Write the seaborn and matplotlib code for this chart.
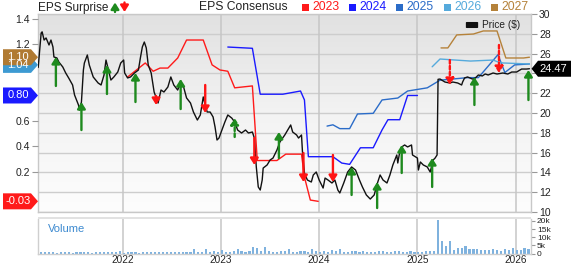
import numpy as np
import pandas as pd
import matplotlib
matplotlib.use("Agg")
import matplotlib.pyplot as plt
import seaborn as sns
from matplotlib.patches import Polygon, FancyArrowPatch, FancyBboxPatch, Rectangle
from matplotlib.colors import LinearSegmentedColormap

sns.set_style("white")
plt.rcParams["font.family"] = ["Liberation Sans", "DejaVu Sans"]

# ---------------- data ----------------
price_t = [2021.14, 2021.17, 2021.18, 2021.20, 2021.22, 2021.25, 2021.27, 2021.29, 2021.30, 2021.33,
           2021.35, 2021.39, 2021.42, 2021.45, 2021.49, 2021.51, 2021.55, 2021.56, 2021.58, 2021.60,
           2021.61, 2021.64, 2021.66, 2021.70, 2021.75, 2021.78, 2021.81, 2021.83, 2021.85, 2021.88,
           2021.91, 2021.95, 2021.98, 2022.01, 2022.02, 2022.05, 2022.08, 2022.12, 2022.16, 2022.18,
           2022.20, 2022.22, 2022.24, 2022.26, 2022.29, 2022.32, 2022.36, 2022.39, 2022.42, 2022.46,
           2022.49, 2022.52, 2022.56, 2022.59, 2022.62, 2022.65, 2022.69, 2022.72, 2022.76, 2022.79,
           2022.82, 2022.84, 2022.86, 2022.89, 2022.92, 2022.94, 2022.96, 2022.98, 2023.01, 2023.04,
           2023.07, 2023.11, 2023.14, 2023.17, 2023.21, 2023.25, 2023.28, 2023.32, 2023.34, 2023.36,
           2023.38, 2023.40, 2023.42, 2023.43, 2023.47, 2023.50, 2023.53, 2023.57, 2023.60, 2023.65,
           2023.68, 2023.71, 2023.73, 2023.77, 2023.79, 2023.82, 2023.83, 2023.85, 2023.88, 2023.92,
           2023.94, 2023.97, 2024.00, 2024.04, 2024.06, 2024.09, 2024.13, 2024.16, 2024.19, 2024.21,
           2024.25, 2024.29, 2024.33, 2024.37, 2024.41, 2024.44, 2024.48, 2024.52, 2024.56, 2024.59,
           2024.62, 2024.65, 2024.69, 2024.72, 2024.75, 2024.79, 2024.80, 2024.82, 2024.84, 2024.87,
           2024.90, 2024.94, 2024.95, 2025.00, 2025.01, 2025.03, 2025.06, 2025.10, 2025.13, 2025.16,
           2025.18, 2025.20, 2025.21, 2025.23, 2025.28, 2025.33, 2025.36, 2025.41, 2025.45, 2025.46,
           2025.48, 2025.51, 2025.56, 2025.59, 2025.62, 2025.66, 2025.69, 2025.72, 2025.77, 2025.81,
           2025.87, 2025.92, 2025.96, 2026.01, 2026.06, 2026.11, 2026.14]
price_v = [24.60, 28.08, 28.20, 27.37, 27.58, 26.87, 27.37, 26.67, 25.66, 25.56,
           25.15, 24.65, 24.04, 23.54, 22.83, 21.82, 20.81, 20.30, 21.11, 24.34,
           25.05, 25.86, 24.85, 23.64, 23.03, 22.83, 23.84, 25.35, 24.55, 23.33,
           23.64, 24.14, 25.05, 25.35, 24.04, 23.54, 23.64, 24.04, 24.34, 25.56,
           26.67, 27.17, 26.57, 24.85, 24.04, 22.12, 21.01, 22.32, 22.12, 22.63,
           23.64, 22.83, 22.32, 23.13, 22.63, 21.52, 21.01, 20.10, 19.29, 19.80,
           21.62, 20.81, 20.10, 20.10, 19.60, 18.59, 17.27, 17.47, 18.28, 19.09,
           19.80, 19.49, 19.09, 18.28, 17.98, 18.28, 17.98, 18.08, 17.47, 14.55,
           12.53, 12.22, 13.23, 14.44, 14.75, 15.25, 15.45, 16.26, 17.07, 17.78,
           18.28, 18.79, 18.08, 17.78, 17.47, 17.78, 16.06, 13.94, 13.23, 13.03,
           13.74, 14.04, 13.23, 12.42, 13.43, 13.23, 12.93, 13.23, 12.22, 11.92,
           12.93, 14.04, 14.55, 14.24, 13.23, 12.53, 11.72, 11.31, 11.72, 12.83,
           13.74, 13.23, 12.93, 13.74, 14.75, 15.76, 14.95, 16.06, 16.57, 16.77,
           16.57, 16.77, 15.76, 15.45, 14.24, 15.05, 14.75, 14.55, 14.04, 15.25,
           15.45, 15.76, 23.40, 23.43, 23.13, 23.03, 23.13, 23.03, 22.83, 23.13,
           23.54, 23.64, 23.43, 23.54, 23.84, 23.74, 23.94, 23.84, 24.04, 23.94,
           24.04, 23.94, 24.14, 24.14, 24.44, 24.44, 24.47]

cons_2023_t = [2022.05, 2022.23, 2022.31, 2022.38, 2022.46, 2022.56, 2022.65, 2022.82, 2022.91, 2022.99,
               2023.07, 2023.14, 2023.32, 2023.37, 2023.57, 2023.66, 2023.82, 2023.85, 2023.91, 2023.99]
cons_2023_v = [0.945, 1.055, 0.99, 1.015, 1.015, 1.094, 1.235, 1.235, 1.04, 1.00,
               0.99, 0.86, 0.875, 0.29, 0.29, 0.34, 0.34, 0.16, -0.02, -0.03]
cons_2024_t = [2023.07, 2023.32, 2023.40, 2023.63, 2023.81, 2023.85, 2023.89, 2024.14, 2024.23, 2024.31,
               2024.42, 2024.55, 2024.64, 2024.70, 2024.82, 2024.90, 2025.00]
cons_2024_v = [1.18, 1.17, 0.81, 0.81, 0.835, 0.765, 0.32, 0.32, 0.27, 0.26,
               0.39, 0.39, 0.53, 0.61, 0.61, 0.80, 0.80]
cons_2025_t = [2024.08, 2024.14, 2024.21, 2024.31, 2024.39, 2024.55, 2024.64, 2024.80, 2024.90, 2025.10,
               2025.23, 2025.51, 2025.62, 2025.82, 2025.89, 2025.99, 2026.14]
cons_2025_v = [0.56, 0.57, 0.54, 0.54, 0.655, 0.66, 0.765, 0.78, 0.835, 0.86,
               0.92, 0.94, 0.94, 1.12, 0.98, 1.04, 1.047]
cons_2026_t = [2025.15, 2025.23, 2025.54, 2025.77, 2025.82, 2025.87, 2026.14]
cons_2026_v = [1.025, 1.086, 1.07, 1.078, 1.063, 1.055, 1.047]
cons_2027_t = [2025.24, 2025.31, 2025.40, 2025.57, 2025.67, 2025.81, 2025.90, 2026.08, 2026.14]
cons_2027_v = [1.173, 1.173, 1.275, 1.282, 1.306, 1.306, 1.094, 1.094, 1.10]

cons_years = ["2023", "2024", "2025", "2026", "2027"]
cons_colors = ["#ff1a1a", "#1a1aff", "#2b6cc8", "#55aadc", "#b5823a"]

# EPS surprise arrows (date, tail price, tip price, dashed?)
surp_t = [2021.32, 2021.58, 2021.84, 2022.13, 2022.34, 2022.59, 2022.84, 2023.14, 2023.34, 2023.59,
          2023.84, 2024.14, 2024.33, 2024.59, 2024.84, 2025.15, 2025.33, 2025.58, 2025.83, 2026.13]
surp_tail = [22.73, 18.28, 21.92, 21.11, 21.72, 20.40, 22.83, 17.58, 17.47, 15.45,
             15.96, 15.76, 11.72, 10.40, 13.94, 12.53, 25.35, 20.81, 26.87, 21.31]
surp_tip = [25.66, 21.11, 24.85, 24.04, 20.81, 23.43, 20.00, 19.49, 14.75, 18.08,
            13.03, 13.03, 14.55, 13.03, 16.77, 15.45, 22.83, 23.64, 24.04, 24.34]
surp_dashed = [False, False, False, False, False, False, False, True, False, False,
               False, False, False, False, False, False, True, False, True, False]

vol_start = 2021.17
vol_step = 0.04
vol_k = [1.2, 0.9, 0.8, 0.7, 0.6, 0.8, 0.7, 0.9, 0.6, 0.7, 0.8, 1.0, 0.7, 0.6, 0.8, 0.9, 0.7, 0.8, 1.1, 0.7, 1.3,
         0.6, 0.7, 0.8, 0.9, 0.6, 0.7, 1.0, 0.8, 0.7, 0.9, 0.8, 1.1, 0.9, 0.7, 0.8, 1.2, 1.0, 0.8, 2.5, 0.9,
         1.0, 2.9, 1.1, 1.8, 1.2,
         2.0, 1.2, 1.0, 1.5, 3.0, 1.3, 1.1, 1.6, 3.7, 3.2, 1.4, 3.7, 1.6, 1.2, 1.0, 1.3, 1.5, 2.5, 1.2,
         1.0, 1.4, 1.7, 1.2, 3.0, 1.3,
         1.1, 1.3, 1.0, 2.0, 1.4, 2.5, 1.2, 1.0, 1.3, 1.5, 1.1, 1.8, 1.0, 1.2, 1.1, 1.7, 1.3, 1.0, 1.2,
         1.4, 1.6, 1.1, 1.0, 1.6, 1.2,
         1.2, 1.0, 1.3, 1.8, 1.5,
         20.5, 7.6, 4.8, 7.6, 2.4, 3.4, 3.2, 4.4, 3.0, 2.6, 2.9, 2.2, 2.4, 2.0, 3.0, 2.2, 1.8, 2.5, 2.0,
         3.5, 2.4, 2.0, 3.3, 2.6]

badge_vals = [-0.03, 0.80, 1.04, 1.10]
badge_text = ["-0.03", "0.80", "1.04", "1.10"]
badge_colors = ["#ff1a1a", "#1a1aff", "#3d9ad2", "#b07a32"]
last_price = 24.47

years = [2022, 2023, 2024, 2025, 2026]
price_ticks = [10, 12, 14, 16, 18, 20, 22, 24, 26, 28, 30]
price_labels = ["10", "12", "14", "16", "18", "20", "22", "", "26", "28", "30"]
eps_ticks = [0.2, 0.4, 0.6, 1.2, 1.4]
eps_labels = ["0.2", "0.4", "0.6", "1.2", "1.4"]
vol_ticks = [0, 5, 10, 15, 20]
vol_labels = ["0", "5k", "10k", "15k", "20k"]

# ---------------- layout ----------------
W, H = 571, 264
fig = plt.figure(figsize=(W / 100, H / 100), dpi=100)

def fx(px):
    return px / W

def fy(py):
    return 1 - py / H

X0, X1 = 2021.141, 2026.153
P0, P1 = 10, 30
E0, E1 = -0.1137, 1.439
L, R, T, B = 38.3, 530.7, 14, 212
rect = [fx(L), fy(B), (R - L) / W, (B - T) / H]

ax_bg = fig.add_axes(rect, zorder=1)
ax_eps = fig.add_axes(rect, zorder=2)
ax_top = fig.add_axes(rect, zorder=3)
for a in (ax_eps, ax_top):
    a.patch.set_visible(False)
for a in (ax_bg, ax_eps, ax_top):
    a.set_xlim(X0, X1)
ax_bg.set_ylim(P0, P1)
ax_top.set_ylim(P0, P1)
ax_eps.set_ylim(E0, E1)

# background gradient
cmap = LinearSegmentedColormap.from_list("bg", ["#e1e1e1", "#f3f3f3", "#fdfdfd"])
ax_bg.imshow(np.linspace(0, 1, 256).reshape(-1, 1), cmap=cmap, extent=[X0, X1, P0, P1],
             aspect="auto", origin="upper", zorder=0)
for p in price_ticks:
    ax_bg.axhline(p, color="#cdcdcd", lw=1.0, zorder=1)
for yv in years:
    ax_bg.axvline(yv, color="#c6c6c6", lw=1.1, zorder=1)

for s in ax_bg.spines.values():
    s.set_color("#c8c8c8")
    s.set_linewidth(1.0)
ax_bg.set_xticks([])
ax_bg.yaxis.tick_right()
ax_bg.set_yticks(price_ticks)
ax_bg.set_yticklabels(price_labels)
ax_bg.tick_params(axis="y", right=True, left=False, length=4, width=0.8, color="#999999",
                  pad=2, labelsize=7.5, labelcolor="#222222", direction="out")

# EPS axis (left)
for s in ax_eps.spines.values():
    s.set_visible(False)
ax_eps.set_xticks([])
ax_eps.set_yticks(eps_ticks)
ax_eps.set_yticklabels(eps_labels)
ax_eps.tick_params(axis="y", left=True, right=False, length=4, width=0.8, color="#999999",
                   pad=2, labelsize=7.5, labelcolor="#222222", direction="out")

cons_t = [cons_2023_t, cons_2024_t, cons_2025_t, cons_2026_t, cons_2027_t]
cons_v = [cons_2023_v, cons_2024_v, cons_2025_v, cons_2026_v, cons_2027_v]
for t, v, c in zip(cons_t, cons_v, cons_colors):
    sns.lineplot(x=t, y=v, ax=ax_eps, color=c, lw=1.0, estimator=None, sort=False)

# price + surprise arrows
ax_top.axis("off")
sns.lineplot(x=price_t, y=price_v, ax=ax_top, color="#111111", lw=1.0, estimator=None, sort=False)
for t, a, b, d in zip(surp_t, surp_tail, surp_tip, surp_dashed):
    col = "#1e8a1e" if b > a else "#ff1414"
    ax_top.annotate("", xy=(t, b), xytext=(t, a),
                    arrowprops=dict(arrowstyle="-|>,head_length=0.38,head_width=0.24",
                                    color=col, lw=1.7, shrinkA=0, shrinkB=0,
                                    mutation_scale=10,
                                    linestyle=(0, (1.5, 1.0)) if d else "-"),
                    annotation_clip=False)

# volume panel
VT, VB = 219.0, 253.5
ax_vol = fig.add_axes([fx(L), fy(VB), (R - L) / W, (VB - VT) / H], zorder=1)
ax_vol.set_xlim(X0, X1)
ax_vol.set_ylim(0, 21.2)
vol_x = [vol_start + vol_step * i for i in range(len(vol_k))]
ax_vol.bar(vol_x, vol_k, width=0.022, color="#7fb2de", edgecolor="none", zorder=2)
for yv in years:
    ax_vol.axvline(yv, color="#c6c6c6", lw=1.1, zorder=1)
for k, s in ax_vol.spines.items():
    s.set_color("#cfcfcf")
    s.set_linewidth(1.0)
ax_vol.spines["top"].set_visible(False)
ax_vol.set_xticks(years)
ax_vol.set_xticklabels([str(y) for y in years])
ax_vol.tick_params(axis="x", length=0, pad=1.0, labelsize=7.2, labelcolor="#222222")
ax_vol.yaxis.tick_right()
ax_vol.set_yticks(vol_ticks)
ax_vol.set_yticklabels(vol_labels)
ax_vol.tick_params(axis="y", right=True, left=False, length=3, width=0.8, color="#999999",
                   pad=1.5, labelsize=6.0, labelcolor="#222222")
ax_vol.text(fx(48), fy(229), "Volume", transform=fig.transFigure, fontsize=8,
            color="#3d8ad0", va="center", ha="left")

# separator band
fig.add_artist(Rectangle((fx(L), fy(219.3)), (R - L) / W, 2.8 / H, transform=fig.transFigure,
                         facecolor="#e2e2e2", edgecolor="none", zorder=5))

# ---------------- badges ----------------
def eps_py(v):
    return T + (E1 - v) / (E1 - E0) * (B - T)

def price_py(p):
    return T + (P1 - p) / (P1 - P0) * (B - T)

for v, txt, c in zip(badge_vals, badge_text, badge_colors):
    yc = eps_py(v)
    pts = [(3, yc - 8), (31, yc - 8), (38, yc), (31, yc + 8), (3, yc + 8)]
    fig.add_artist(Polygon([(fx(x), fy(y)) for x, y in pts], closed=True,
                           transform=fig.transFigure, facecolor=c, edgecolor="none", zorder=6))
    fig.text(fx(18), fy(yc), txt, color="white", fontsize=8, ha="center", va="center", zorder=7)

yc = price_py(last_price)
pts = [(531.5, yc), (538, yc - 8), (571, yc - 8), (571, yc + 8), (538, yc + 8)]
fig.add_artist(Polygon([(fx(x), fy(y)) for x, y in pts], closed=True,
                       transform=fig.transFigure, facecolor="#000000", edgecolor="none", zorder=6))
fig.text(fx(553), fy(yc), f"{last_price:.2f}", color="white", fontsize=8, ha="center",
         va="center", zorder=7)

# ---------------- legends ----------------
fig.text(fx(38.5), fy(7.5), "EPS Surprise", fontsize=8.5, color="#222222", ha="left", va="center")
fig.add_artist(FancyArrowPatch((fx(115), fy(12)), (fx(115), fy(2.5)), transform=fig.transFigure,
                               arrowstyle="-|>,head_length=0.38,head_width=0.24", mutation_scale=10,
                               color="#1e8a1e", lw=1.7, shrinkA=0, shrinkB=0))
fig.add_artist(FancyArrowPatch((fx(124.5), fy(2.5)), (fx(124.5), fy(12)), transform=fig.transFigure,
                               arrowstyle="-|>,head_length=0.38,head_width=0.24", mutation_scale=10,
                               color="#ff1414", lw=1.7, shrinkA=0, shrinkB=0))

fig.text(fx(199), fy(7.5), "EPS Consensus", fontsize=8.7, color="#222222", ha="left", va="center")
leg_x = [302, 349, 396, 444, 491]
for x, y_lab, c in zip(leg_x, cons_years, cons_colors):
    fig.add_artist(Rectangle((fx(x), fy(11)), 7 / W, 7 / H, transform=fig.transFigure,
                             facecolor=c, edgecolor="none"))
    fig.text(fx(x + 10), fy(7.5), y_lab, fontsize=8.7, color=c, ha="left", va="center")

fig.add_artist(FancyBboxPatch((fx(467), fy(27.5)), 10 / W, 5 / H, boxstyle="round,pad=0.002",
                              transform=fig.transFigure, facecolor="#111111", edgecolor="none",
                              zorder=8))
fig.text(fx(482), fy(25.5), "Price ($)", fontsize=7.3, color="#222222", ha="left", va="center",
         zorder=8)

fig.savefig("out.png", dpi=100)
